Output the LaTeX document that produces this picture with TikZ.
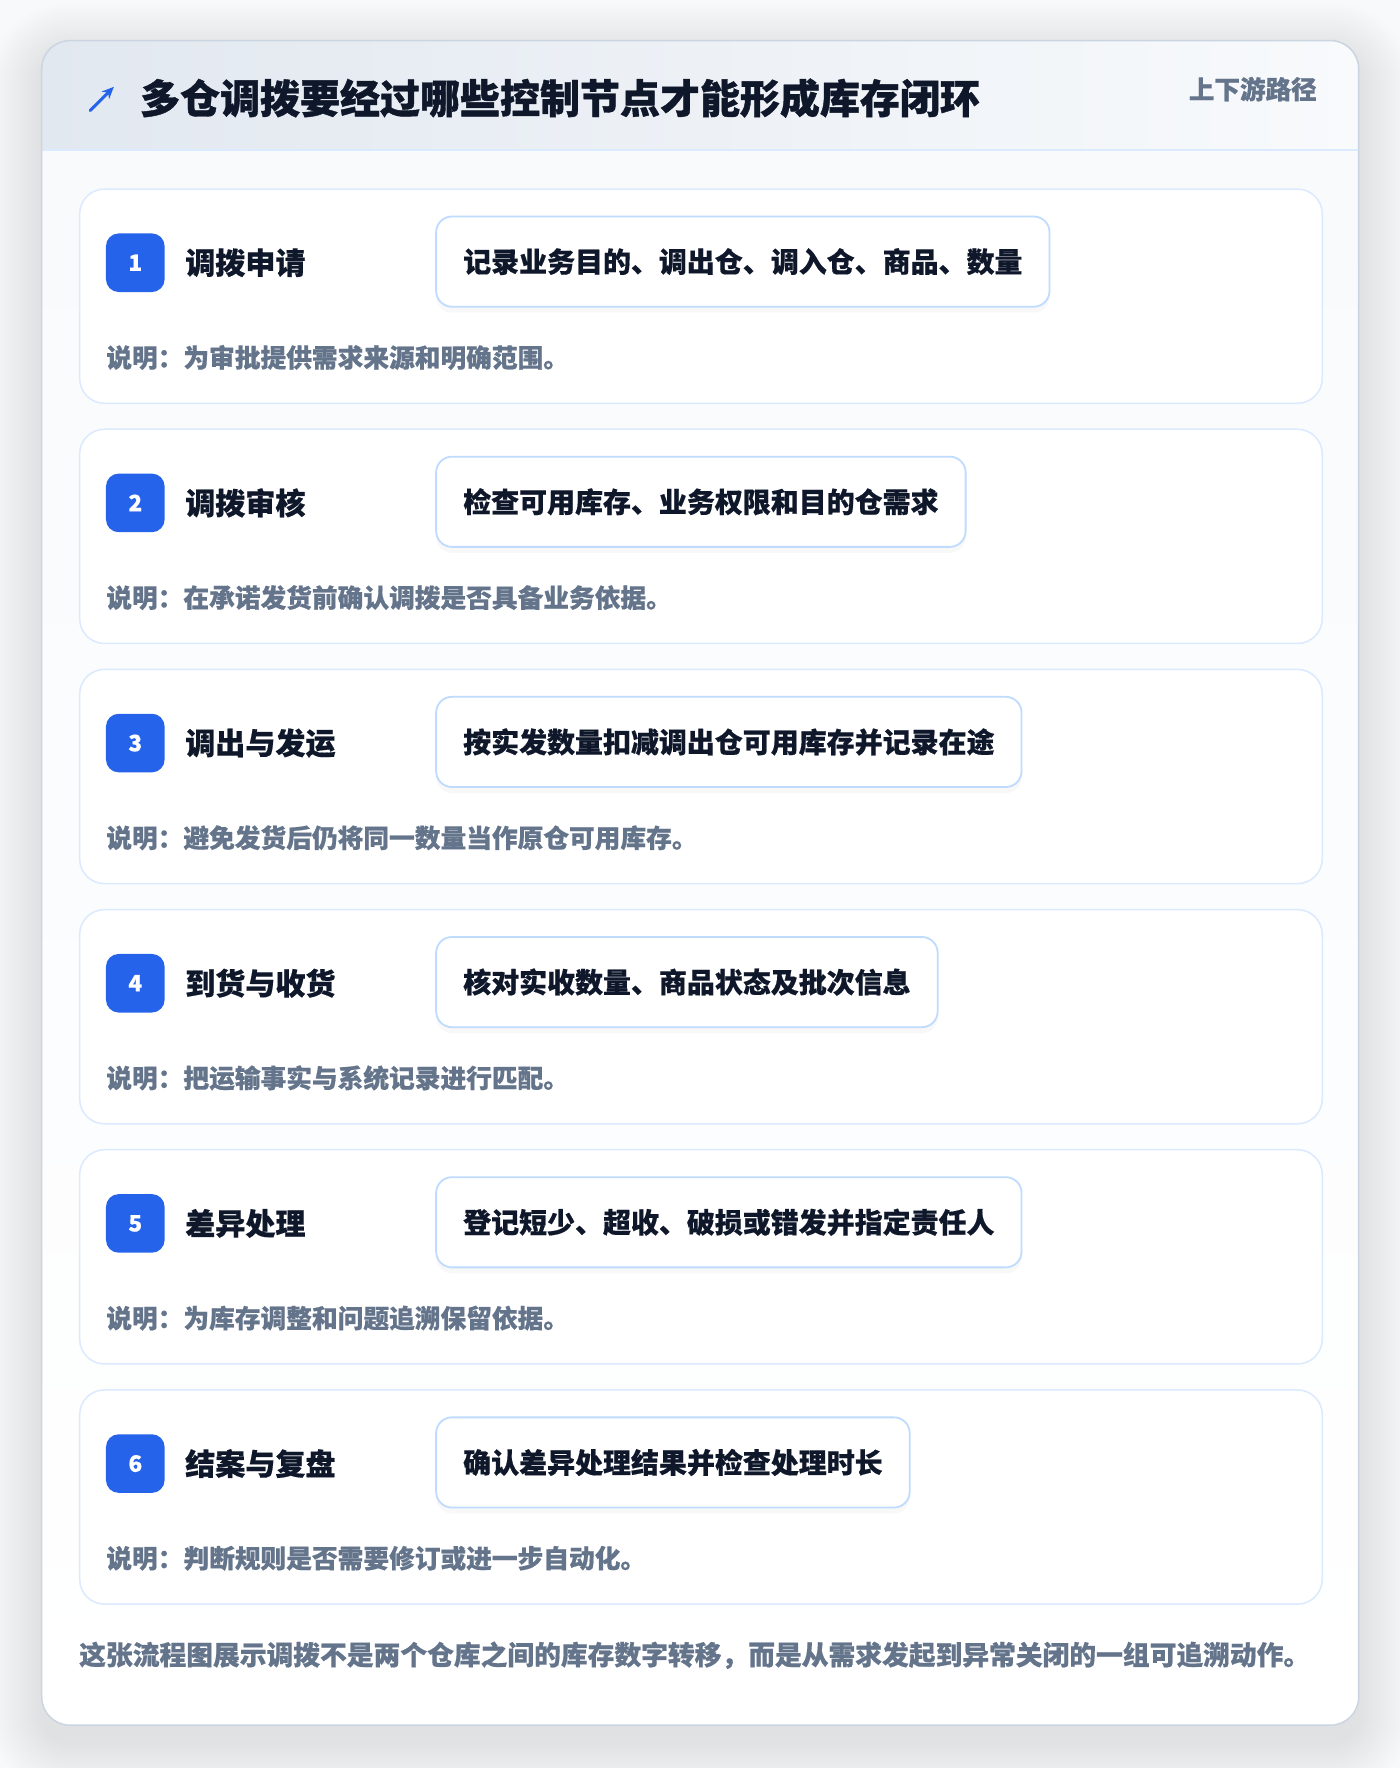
\documentclass[tikz,border=0pt]{standalone}
\usepackage{fontspec}
\newfontfamily\cjk{Noto Sans CJK SC}[BoldFeatures={FakeBold=0.5}]
\newfontfamily\cjkh{Noto Sans CJK SC}[BoldFeatures={FakeBold=1.0}]
\usetikzlibrary{shadows,arrows.meta}
\definecolor{pagebg}{HTML}{F8F9FA}
\definecolor{cardborder}{HTML}{CBD5E1}
\definecolor{headl}{HTML}{E2E8F0}
\definecolor{headr}{HTML}{F8FAFC}
\definecolor{headline}{HTML}{DBEAFE}
\definecolor{bodytop}{HTML}{F8FAFC}
\definecolor{stepborder}{HTML}{DBEAFE}
\definecolor{badgeblue}{HTML}{2563EB}
\definecolor{darktext}{HTML}{0F172A}
\definecolor{graytext}{HTML}{64748B}
\definecolor{detailborder}{HTML}{BFDBFE}
\tikzset{
  stepcard/.style={draw=stepborder, line width=1pt, fill=white, rounded corners=16.5pt,
    minimum width=826.5pt, minimum height=142.5pt, anchor=north west, inner sep=0pt},
  badge/.style={fill=badgeblue, rounded corners=8.5pt, minimum size=39pt, inner sep=0pt,
    text=white, font=\cjk\bfseries\fontsize{15}{18}\selectfont},
  steptitle/.style={anchor=west, inner sep=0pt, text=darktext,
    font=\cjk\bfseries\fontsize{20}{24}\selectfont},
  detailbox/.style={anchor=west, draw=detailborder, line width=1.2pt, fill=white,
    rounded corners=10.5pt, minimum height=60pt, inner xsep=18pt, inner ysep=0pt,
    text=darktext, font=\cjk\bfseries\fontsize{18.6}{22}\selectfont,
    drop shadow={opacity=0.05, shadow xshift=0pt, shadow yshift=-4pt}},
  notetext/.style={anchor=west, inner sep=0pt, text=graytext,
    font=\cjk\bfseries\fontsize{17.1}{20}\selectfont},
}
\begin{document}
\begin{tikzpicture}[x=0.75pt,y=-0.75pt]
\useasboundingbox (0,0) rectangle (1241.6,1568);
\fill[pagebg] (0,0) rectangle (1241.6,1568);
% soft shadow of the main card
\foreach \i in {1,...,24}
  \fill[black,opacity=0.0035,rounded corners={18.75pt+\i*1.5pt}]
    (37-2*\i,36-2*\i+14) rectangle (1205+2*\i,1530+2*\i+14);
% main card
\fill[white, rounded corners=18.75pt] (37,36) rectangle (1205,1530);
\begin{scope}
  \clip[rounded corners=18.75pt] (37,36) rectangle (1205,1530);
  \shade[top color=bodytop, bottom color=white] (37,133) rectangle (1205,1530);
  \shade[left color=headl, right color=headr] (37,36) rectangle (1205,133);
  \draw[headline, line width=1.5pt] (37,133) -- (1205,133);
\end{scope}
\draw[cardborder, line width=1pt, rounded corners=18.75pt] (37,36) rectangle (1205,1530);
% header
\coordinate (icontail) at (80,98);
\coordinate (iconhead) at (101,77);
\draw[badgeblue, line width=2pt, line cap=round, -{Stealth[length=8pt,width=7pt]}] (icontail) -- (iconhead);
\node[anchor=west, inner sep=0pt, text=darktext, font=\cjkh\bfseries\fontsize{26.6}{30}\selectfont]
  (title) at (124,87) {多仓调拨要经过哪些控制节点才能形成库存闭环};
\node[anchor=east, inner sep=0pt, text=graytext, font=\cjk\bfseries\fontsize{17}{20}\selectfont]
  (tag) at (1168,79) {上下游路径};
% steps
\foreach \t/\d/\s [count=\i from 1] in {
  调拨申请/记录业务目的、调出仓、调入仓、商品、数量/为审批提供需求来源和明确范围。,
  调拨审核/检查可用库存、业务权限和目的仓需求/在承诺发货前确认调拨是否具备业务依据。,
  调出与发运/按实发数量扣减调出仓可用库存并记录在途/避免发货后仍将同一数量当作原仓可用库存。,
  到货与收货/核对实收数量、商品状态及批次信息/把运输事实与系统记录进行匹配。,
  差异处理/登记短少、超收、破损或错发并指定责任人/为库存调整和问题追溯保留依据。,
  结案与复盘/确认差异处理结果并检查处理时长/判断规则是否需要修订或进一步自动化。}
{
  \pgfmathsetmacro\yy{167+213*(\i-1)}
  \node[stepcard] (card\i) at (70,\yy) {};
  \node[badge] (badge\i) at (120,\yy+66) {\i};
  \node[steptitle] (steptitle\i) at (164,\yy+66) {\t};
  \node[detailbox] (detail\i) at (386,\yy+65) {\d};
  \node[notetext] (note\i) at (94,\yy+150) {说明：\s};
}
% footer
\node[anchor=west, inner sep=0pt, text=graytext, font=\cjk\bfseries\fontsize{17.8}{21}\selectfont]
  (footer) at (70,1468) {这张流程图展示调拨不是两个仓库之间的库存数字转移，而是从需求发起到异常关闭的一组可追溯动作。};
\end{tikzpicture}
\end{document}
